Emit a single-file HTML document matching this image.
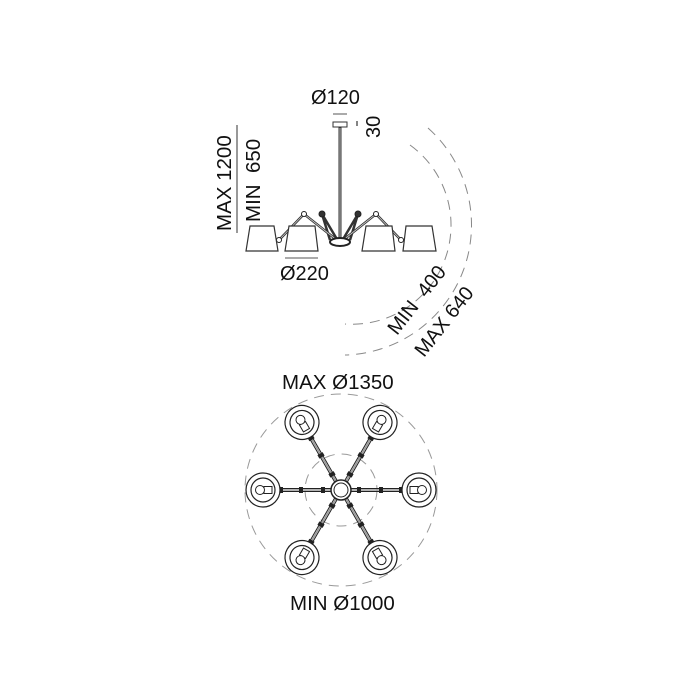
<!DOCTYPE html>
<html><head><meta charset="utf-8"><style>
html,body{margin:0;padding:0;background:#fff}
svg{display:block}
text{font-family:"Liberation Sans",sans-serif;fill:#111}
</style></head><body>
<svg width="700" height="700" viewBox="0 0 700 700" xmlns="http://www.w3.org/2000/svg">
<defs>
<g id="lamp">
  <circle cx="0" cy="0" r="17" fill="#fff" stroke="#222" stroke-width="1.2"/>
  <circle cx="0" cy="0" r="12" fill="none" stroke="#222" stroke-width="1.2"/>
  <rect x="-9" y="-3.5" width="8" height="7" fill="#fff" stroke="#222" stroke-width="1"/>
  <circle cx="3" cy="0" r="4.5" fill="#fff" stroke="#222" stroke-width="1"/>
</g>
<g id="arm">
  <line x1="10" y1="-1.5" x2="62" y2="-1.5" stroke="#222" stroke-width="1"/>
  <line x1="10" y1="1.5" x2="62" y2="1.5" stroke="#222" stroke-width="1"/>
  <line x1="10" y1="0" x2="62" y2="0" stroke="#999" stroke-width="1.5"/>
  <rect x="16" y="-3" width="4" height="6" fill="#222"/>
  <rect x="38" y="-3" width="4" height="6" fill="#222"/>
  <rect x="58" y="-3" width="4" height="6" fill="#222"/>
</g>
</defs>

<text x="311" y="104" font-size="20">Ø120</text>
<line x1="333" y1="114" x2="347" y2="114" stroke="#555" stroke-width="1"/>
<rect x="333" y="122" width="14" height="5" fill="#fff" stroke="#333" stroke-width="1"/>
<line x1="357" y1="121" x2="357" y2="126" stroke="#333" stroke-width="1.2"/>
<text transform="translate(380,138) rotate(-90)" font-size="20">30</text>
<line x1="340" y1="127" x2="340" y2="240" stroke="#333" stroke-width="3"/>
<line x1="340" y1="128" x2="340" y2="240" stroke="#bbb" stroke-width="1"/>

<text transform="translate(231,231) rotate(-90)" font-size="20.5">MAX 1200</text>
<line x1="237" y1="125" x2="237" y2="233" stroke="#333" stroke-width="1"/>
<text transform="translate(260,222) rotate(-90)" font-size="20.5">MIN&#160;&#160;650</text>

<g stroke="#333" stroke-width="2.5" fill="none">
<polyline points="338,241 304,214 279,240"/>
<polyline points="338,241 322,214 330,240"/>
<polyline points="342,241 376,214 401,240"/>
<polyline points="342,241 358,214 350,240"/>
</g>
<g stroke="#ccc" stroke-width="0.8" fill="none">
<polyline points="338,241 304,214 279,240"/>
<polyline points="342,241 376,214 401,240"/>
</g>
<g fill="#fff" stroke="#222" stroke-width="1">
<circle cx="304" cy="214" r="2.5"/><circle cx="376" cy="214" r="2.5"/>
<circle cx="322" cy="214" r="3" fill="#333"/><circle cx="358" cy="214" r="3" fill="#333"/>
<circle cx="279" cy="240" r="2.5"/><circle cx="401" cy="240" r="2.5"/>
</g>
<ellipse cx="340" cy="242" rx="10" ry="4" fill="#fff" stroke="#222" stroke-width="2"/>

<g fill="#fff" stroke="#333" stroke-width="1.2">
<polygon points="250,226 274,226 278,251 246,251"/>
<polygon points="289,226 315,226 318,251 285,251"/>
<polygon points="366,226 392,226 395,251 362,251"/>
<polygon points="406,226 432,226 436,251 403,251"/>
</g>
<line x1="285" y1="258" x2="318" y2="258" stroke="#555" stroke-width="1"/>
<text x="280" y="280" font-size="20">Ø220</text>

<g fill="none" stroke="#888" stroke-width="1" stroke-dasharray="10,7">
<path d="M 410 145 A 99 99 0 0 1 345 324"/>
<path d="M 428 128 A 130 130 0 0 1 345 355"/>
</g>
<text transform="translate(397,336) rotate(-52)" font-size="20">MIN&#160;&#160;400</text>
<text transform="translate(424,358) rotate(-52)" font-size="20">MAX 640</text>

<text x="282" y="389" font-size="20.5">MAX Ø1350</text>
<text x="290" y="610" font-size="20.5">MIN Ø1000</text>
<g fill="none" stroke="#999" stroke-width="1" stroke-dasharray="10,7">
<circle cx="341" cy="490" r="96"/>
<circle cx="341" cy="490" r="36"/>
</g>
<g transform="translate(341,490)">
  <use href="#arm" transform="rotate(0)"/>
  <use href="#arm" transform="rotate(60)"/>
  <use href="#arm" transform="rotate(120)"/>
  <use href="#arm" transform="rotate(180)"/>
  <use href="#arm" transform="rotate(240)"/>
  <use href="#arm" transform="rotate(300)"/>
  <circle r="10" fill="#fff" stroke="#222" stroke-width="1.5"/>
  <circle r="7" fill="#fff" stroke="#222" stroke-width="1"/>
  <use href="#lamp" transform="rotate(0) translate(78,0)"/>
  <use href="#lamp" transform="rotate(60) translate(78,0)"/>
  <use href="#lamp" transform="rotate(120) translate(78,0)"/>
  <use href="#lamp" transform="rotate(180) translate(78,0)"/>
  <use href="#lamp" transform="rotate(240) translate(78,0)"/>
  <use href="#lamp" transform="rotate(300) translate(78,0)"/>
</g>
</svg>
</body></html>
